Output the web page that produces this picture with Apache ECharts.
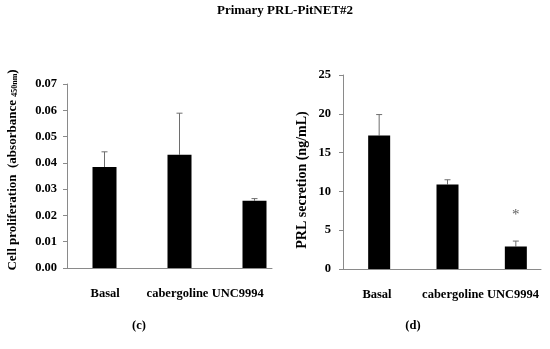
<!DOCTYPE html>
<html><head><meta charset="utf-8">
<script src="https://cdn.jsdelivr.net/npm/echarts@6/dist/echarts.min.js"></script>
<style>html,body{margin:0;padding:0;background:#fff}#c{width:550px;height:349px}</style>
</head><body><div id="c"></div>
<script>
const categories = ['Basal', 'cabergoline', 'UNC9994'];
const prolifMean = [0.0384, 0.0431, 0.0256];
const prolifErr = [0.0058, 0.0158, 0.0008];
const prlMean = [17.2, 10.9, 2.9];
const prlErr = [2.7, 0.6, 0.7];
const prlSig = ['', '', '*'];
const sigLevel = [null, null, 7.0];

const chart = echarts.init(document.getElementById('c'));
const FONT = '"Liberation Serif", "Times New Roman", serif';
const AX = '#8a8a8a';

function errSeries(xi, yi, means, errs, cap) {
  return {
    type: 'custom', xAxisIndex: xi, yAxisIndex: yi, z: 1,
    data: means.map((m, i) => [i, m, m + errs[i]]),
    renderItem: function (params, api) {
      const i = api.value(0);
      const p0 = api.coord([i, api.value(1)]);
      const p1 = api.coord([i, api.value(2)]);
      const st = { stroke: '#6e6e6e', lineWidth: 1 };
      return { type: 'group', children: [
        { type: 'line', shape: { x1: p0[0], y1: p0[1], x2: p1[0], y2: p1[1] }, style: st },
        { type: 'line', shape: { x1: p1[0] - cap / 2, y1: p1[1], x2: p1[0] + cap / 2, y2: p1[1] }, style: st }
      ]};
    }
  };
}

const labelShift = { left: [8, 16, 0], right: [2, 22, 10] };
function catLabel(shifts) {
  const base = { fontFamily: FONT, fontWeight: 'bold', fontSize: 12.5, color: '#000' };
  return Object.assign({}, base, {
    margin: 19, interval: 0, hideOverlap: false,
    formatter: function (v, i) { return '{s' + i + '|' + v + '}'; },
    rich: {
      s0: Object.assign({ padding: [0, 0, 0, shifts[0]] }, base),
      s1: Object.assign({ padding: [0, 0, 0, shifts[1]] }, base),
      s2: Object.assign({ padding: [0, 0, 0, shifts[2]] }, base)
    }
  });
}

const option = {
  animation: false,
  grid: [
    { left: 67, top: 84, width: 205, height: 184 },
    { left: 67, top: 84, width: 225, height: 184 },
    { left: 343, top: 75, width: 198, height: 194 },
    { left: 345, top: 75, width: 217, height: 194 }
  ],
  xAxis: [
    { type: 'category', gridIndex: 0, data: categories,
      axisLine: { lineStyle: { color: AX } }, axisTick: { show: false },
      axisLabel: catLabel(labelShift.left) },
    { type: 'category', gridIndex: 1, data: categories, show: false },
    { type: 'category', gridIndex: 2, data: categories,
      axisLine: { lineStyle: { color: AX } }, axisTick: { show: false },
      axisLabel: catLabel(labelShift.right) },
    { type: 'category', gridIndex: 3, data: categories, show: false }
  ],
  yAxis: [
    { type: 'value', gridIndex: 0, min: 0, max: 0.07, interval: 0.01,
      axisLine: { show: true, lineStyle: { color: AX } },
      axisTick: { show: true, length: 4, lineStyle: { color: AX } },
      splitLine: { show: false },
      axisLabel: { fontFamily: FONT, fontWeight: 'bold', fontSize: 12.5, color: '#000', margin: 10,
        formatter: v => v.toFixed(2) },
      name: '{m|Cell proliferation  (absorbance }{s|450nm}{m|)}',
      nameLocation: 'middle', nameGap: 48, nameRotate: 90,
      nameTextStyle: { padding: [0, 0, 0, 12], rich: {
        m: { fontFamily: FONT, fontWeight: 'bold', fontSize: 13, color: '#000' },
        s: { fontFamily: FONT, fontWeight: 'bold', fontSize: 8, color: '#000', verticalAlign: 'bottom', padding: [4, 0, 0, 0] }
      } } },
    { type: 'value', gridIndex: 1, min: 0, max: 0.07, show: false, splitLine: { show: false } },
    { type: 'value', gridIndex: 2, min: 0, max: 25, interval: 5,
      axisLine: { show: true, lineStyle: { color: AX } },
      axisTick: { show: true, length: 4, lineStyle: { color: AX } },
      splitLine: { show: false },
      axisLabel: { fontFamily: FONT, fontWeight: 'bold', fontSize: 12.5, color: '#000', margin: 12 },
      name: 'PRL secretion (ng/mL)', nameLocation: 'middle', nameGap: 34, nameRotate: 90,
      nameTextStyle: { fontFamily: FONT, fontWeight: 'bold', fontSize: 14, color: '#000', padding: [0, 16, 0, 0] } },
    { type: 'value', gridIndex: 3, min: 0, max: 25, show: false, splitLine: { show: false } }
  ],
  graphic: [
    { type: 'text', x: 285, y: 4, style: { text: 'Primary PRL-PitNET#2', font: 'bold 13px ' + FONT, fill: '#000', align: 'center' } },
    { type: 'text', x: 139, y: 319, style: { text: '(c)', font: 'bold 12.5px ' + FONT, fill: '#000', align: 'center' } },
    { type: 'text', x: 413, y: 319, style: { text: '(d)', font: 'bold 12.5px ' + FONT, fill: '#000', align: 'center' } }
  ],
  series: [
    { type: 'bar', xAxisIndex: 1, yAxisIndex: 1, data: prolifMean, barWidth: 24, z: 2,
      itemStyle: { color: '#000' } },
    errSeries(1, 1, prolifMean, prolifErr, 6),
    { type: 'bar', xAxisIndex: 3, yAxisIndex: 3, data: prlMean, barWidth: 22, z: 2,
      itemStyle: { color: '#000' } },
    errSeries(3, 3, prlMean, prlErr, 6),
    { type: 'scatter', xAxisIndex: 3, yAxisIndex: 3, symbolSize: 0,
      data: sigLevel.map((v, i) => [i, v]),
      label: { show: true, position: 'inside', formatter: p => prlSig[p.dataIndex],
        fontFamily: FONT, fontSize: 15, color: '#333' } }
  ]
};
chart.setOption(option);
</script></body></html>
